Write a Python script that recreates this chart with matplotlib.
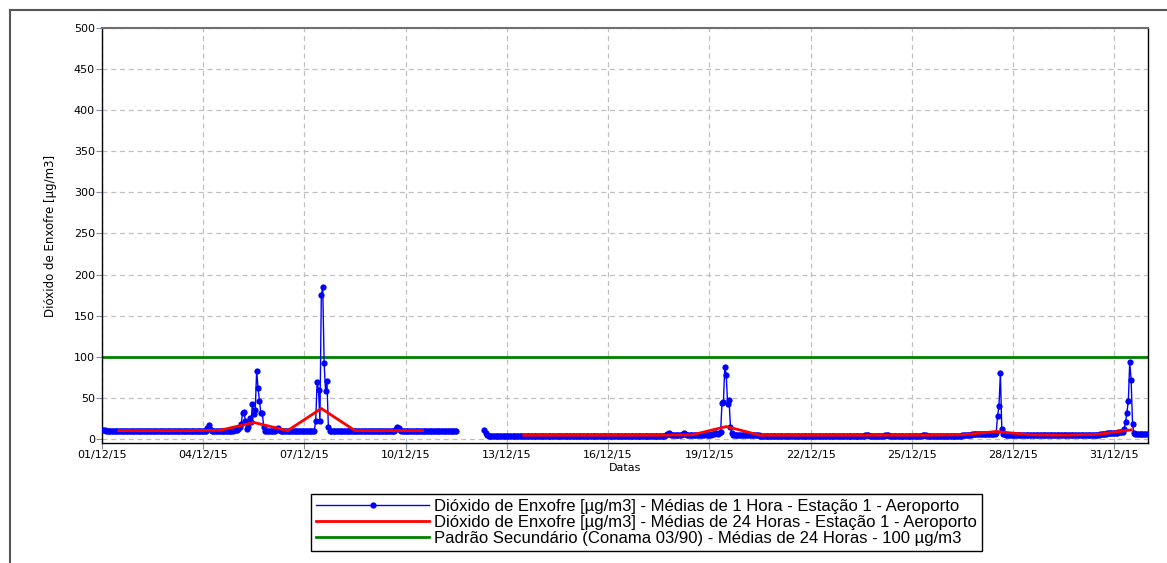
import numpy as np
import pandas as pd
import matplotlib
matplotlib.use("Agg")
import matplotlib.pyplot as plt
from matplotlib.lines import Line2D

# SO2 1-hour means (ug/m3), Dec 2015, one row per day (00h..23h), None = no data
so2_1h = [
    11, 11, 11, 10, 10, 10, 10, 9, 9, 9, 9, 9, 9, 10, 10, 10, 10, 10, 10, 10, 10, 10, 10, 10,   # 01/12
    10, 10, 10, 10, 10, 9, 9, 9, 10, 10, 10, 10, 10, 10, 10, 10, 10, 10, 10, 10, 10, 10, 10, 10,   # 02/12
    10, 10, 10, 10, 10, 10, 10, 10, 10, 10, 9, 9, 9, 9, 10, 10, 10, 10, 10, 10, 10, 10, 10, 10,   # 03/12
    10, 10, 10, 13, 17, 12, 10, 10, 10, 10, 10, 10, 10, 10, 10, 10, 9, 9, 10, 10, 10, 10, 11, 11,  # 04/12
    11, 12, 14, 18, 32, 33, 22, 12, 14, 25, 20, 43, 30, 35, 83, 62, 46, 31, 32, 15, 10, 10, 10, 10,  # 05/12
    10, 10, 10, 10, 12, 13, 11, 10, 10, 10, 10, 10, 10, 10, 10, 10, 10, 10, 10, 10, 10, 10, 10, 10,  # 06/12
    10, 10, 10, 10, 10, 10, 10, 10, 22, 69, 60, 22, 175, 185, 92, 58, 70, 15, 10, 10, 10, 10, 10, 10,  # 07/12
    10, 10, 10, 10, 10, 10, 10, 10, 10, 10, 10, 10, 9, 9, 9, 10, 10, 10, 10, 10, 10, 10, 10, 10,   # 08/12
    10, 10, 10, 10, 10, 10, 10, 10, 10, 10, 10, 10, 10, 10, 10, 10, 10, 12, 14, 13, 11, 10, 10, 10,  # 09/12
    10, 10, 10, 10, 10, 10, 10, 10, 10, 10, 10, 10, 10, 10, 10, 10, 10, 10, 10, 10, 10, 10, 10, 10,  # 10/12
    10, 10, 10, 10, 10, 10, 10, 10, 10, 10, 10, 10, 10, None, None, None, None, None, None, None, None, None, None, None,  # 11/12
    None, None, None, None, None, None, None, None, 11, 7, 5, 4, 4, 4, 4, 4, 4, 4, 4, 4, 4, 4, 4, 4,  # 12/12
    4, 4, 4, 4, 4, 4, 4, 4, 4, 4, 4, 4, 4, 4, 4, 4, 4, 4, 4, 4, 4, 4, 4, 4,   # 13/12
    4, 4, 4, 4, 4, 4, 4, 4, 4, 4, 4, 4, 4, 4, 4, 4, 4, 4, 4, 4, 4, 4, 4, 4,   # 14/12
    4, 4, 4, 4, 4, 4, 4, 4, 4, 4, 4, 4, 4, 4, 4, 4, 4, 4, 4, 4, 4, 4, 4, 4,   # 15/12
    4, 4, 4, 4, 4, 4, 4, 4, 4, 4, 4, 4, 4, 4, 4, 4, 4, 4, 4, 4, 4, 4, 4, 4,   # 16/12
    4, 4, 4, 4, 4, 4, 4, 4, 4, 4, 4, 4, 4, 4, 4, 4, 4, 5, 6, 7, 6, 5, 5, 5,   # 17/12
    5, 5, 5, 5, 5, 6, 7, 6, 5, 5, 5, 5, 5, 5, 5, 5, 5, 5, 5, 5, 5, 6, 5, 5,   # 18/12
    5, 5, 6, 6, 7, 7, 6, 7, 8, 44, 45, 88, 78, 43, 47, 15, 7, 5, 5, 5, 5, 5, 5, 5,   # 19/12
    5, 5, 5, 5, 5, 5, 5, 5, 5, 5, 5, 5, 4, 4, 4, 4, 4, 4, 4, 4, 4, 4, 4, 4,   # 20/12
    4, 4, 4, 4, 4, 4, 4, 4, 4, 4, 4, 4, 4, 4, 4, 4, 4, 4, 4, 4, 4, 4, 4, 4,   # 21/12
    4, 4, 4, 4, 4, 4, 4, 4, 4, 4, 4, 4, 4, 4, 4, 4, 4, 4, 4, 4, 4, 4, 4, 4,   # 22/12
    4, 4, 4, 4, 4, 4, 4, 4, 4, 4, 4, 4, 4, 4, 4, 5, 5, 5, 4, 4, 4, 4, 4, 4,   # 23/12
    4, 4, 4, 4, 4, 5, 5, 5, 4, 4, 4, 4, 4, 4, 4, 4, 4, 4, 4, 4, 4, 4, 4, 4,   # 24/12
    4, 4, 4, 4, 4, 4, 4, 4, 5, 5, 5, 4, 4, 4, 4, 4, 4, 4, 4, 4, 4, 4, 4, 4,   # 25/12
    4, 4, 4, 4, 4, 4, 4, 4, 4, 4, 4, 4, 5, 5, 5, 5, 5, 5, 5, 6, 6, 6, 6, 6,   # 26/12
    6, 6, 6, 6, 6, 6, 6, 6, 6, 6, 6, 6, 7, 28, 40, 80, 12, 6, 6, 5, 5, 5, 5, 5,   # 27/12
    5, 5, 5, 5, 5, 5, 5, 5, 5, 5, 5, 5, 5, 5, 5, 5, 5, 5, 5, 5, 5, 5, 5, 5,   # 28/12
    5, 5, 5, 5, 5, 5, 5, 5, 5, 5, 5, 5, 5, 5, 5, 5, 5, 5, 5, 5, 5, 5, 5, 5,   # 29/12
    5, 5, 5, 5, 5, 5, 5, 5, 5, 5, 5, 5, 5, 5, 6, 6, 6, 6, 6, 7, 7, 7, 7, 7,   # 30/12
    7, 7, 7, 8, 8, 8, 8, 12, 20, 32, 46, 93, 72, 18, 7, 6, 6, 6, 6, 6, 6, 6, 6, 6,   # 31/12
]

# SO2 24-hour means, one value per day (plotted at noon)
so2_24h = [10, 10, 10, 10.5, 20, 10, 37, 10, 10, 10, None, None,
           4.5, 4.5, 4.5, 4.5, 4.5, 5, 15, 4.5, 4.5, 4.5, 4.5, 4.5,
           4.5, 5, 9, 5, 4.5, 5.5, 11]

limit_value = 100

tick_labels = ["01/12/15", "04/12/15", "07/12/15", "10/12/15", "13/12/15", "16/12/15",
               "19/12/15", "22/12/15", "25/12/15", "28/12/15", "31/12/15"]

labels = ["Dióxido de Enxofre [µg/m3] - Médias de 1 Hora - Estação 1 - Aeroporto",
          "Dióxido de Enxofre [µg/m3] - Médias de 24 Horas - Estação 1 - Aeroporto",
          "Padrão Secundário (Conama 03/90) - Médias de 24 Horas - 100 µg/m3"]

hours = pd.date_range("2015-12-01 00:00", periods=len(so2_1h), freq="h")
days = pd.date_range("2015-12-01 12:00", periods=len(so2_24h), freq="D")
y1 = np.array(so2_1h, dtype=float)
y24 = np.array(so2_24h, dtype=float)

x0 = pd.Timestamp("2015-12-01 00:00")
x1 = pd.Timestamp("2016-01-01 00:00")

fig = plt.figure(figsize=(11.67, 5.63), dpi=100)
ax = fig.add_axes([102 / 1167, 1 - 443 / 563, (1148 - 102) / 1167, (443 - 28) / 563])

ax.grid(True, color="#c0c0c0", linestyle=(0, (4, 3)), linewidth=0.9)
ax.set_axisbelow(True)

ax.plot([x0, x1], [limit_value, limit_value], color="#008000", lw=2, zorder=2)
l1, = ax.plot(hours, y1, color="#0000ff", lw=1, marker="o", markersize=4.5,
              markeredgewidth=0, zorder=3)
l2, = ax.plot(days, y24, color="#ff0000", lw=2, zorder=4)

ax.set_xlim(x0, x1)
ax.set_ylim(-5, 500)
ax.set_yticks(np.arange(0, 501, 50))
ax.set_xticks(pd.to_datetime(tick_labels, format="%d/%m/%y"))
ax.set_xticklabels(tick_labels)
ax.tick_params(labelsize=8, length=4, color="#8090a0", pad=1)

for s in ax.spines.values():
    s.set_color("black")
    s.set_linewidth(1)
ax.spines["top"].set_color("#707070")
ax.spines["top"].set_linewidth(1.5)

ax.set_ylabel("Dióxido de Enxofre [µg/m3]", fontsize=8.5, labelpad=12)
ax.set_xlabel("Datas", fontsize=8, labelpad=2)

handles = [Line2D([], [], color="#0000ff", lw=1, marker="o", markersize=4.5, markeredgewidth=0),
           Line2D([], [], color="#ff0000", lw=2),
           Line2D([], [], color="#008000", lw=2)]
leg = fig.legend(handles, labels, loc="center", bbox_to_anchor=(0.554, 0.072),
                 prop={"family": "Liberation Sans", "size": 12}, handlelength=6.8,
                 handletextpad=0.3, labelspacing=0.05, borderpad=0.3,
                 fancybox=False, framealpha=1, edgecolor="black", numpoints=1)
leg.get_frame().set_linewidth(1)

# outer frame (top and left visible)
fig.add_artist(Line2D([10 / 1167, 1], [1 - 10 / 563, 1 - 10 / 563], color="#555555",
                      lw=1.5, transform=fig.transFigure))
fig.add_artist(Line2D([10 / 1167, 10 / 1167], [0, 1 - 10 / 563], color="#555555",
                      lw=1.5, transform=fig.transFigure))

fig.savefig("out.png", dpi=100)
